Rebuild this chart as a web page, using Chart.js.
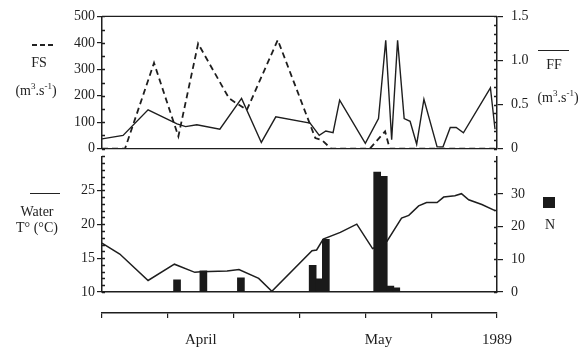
<!DOCTYPE html>
<html>
<head>
<meta charset="utf-8">
<script src="https://cdn.jsdelivr.net/npm/chart.js@4.4.1/dist/chart.umd.min.js"></script>
<style>
    body { margin: 0; background: #fff; }
    #wrap { position: relative; width: 582px; height: 352px; background: #fff; overflow: hidden; }
    canvas { position: absolute; left: 0; }
    .lbl { position: absolute; transform: translate(-50%, -50%); font-family: 'Liberation Serif', serif; font-size: 14px; color: #222; white-space: nowrap; }
    .lbl sup { font-size: 9px; }
    .mark { position: absolute; }
</style>
</head>
<body>
<div id="wrap">
    <canvas id="chart_top" width="582" height="165" style="top:0"></canvas>
    <canvas id="chart_bottom" width="582" height="212" style="top:140px"></canvas>

    <div class="mark" style="left:32px;top:44px;width:21px;height:2px;background:repeating-linear-gradient(90deg,#222 0 5px,transparent 5px 8px)"></div>
    <div class="lbl" style="left:39px;top:63px">FS</div>
    <div class="lbl" style="left:36px;top:90px">(m<sup>3</sup>.s<sup>-1</sup>)</div>

    <div class="mark" style="left:538px;top:50px;width:31px;border-top:1.5px solid #222"></div>
    <div class="lbl" style="left:554px;top:65px">FF</div>
    <div class="lbl" style="left:558px;top:97px">(m<sup>3</sup>.s<sup>-1</sup>)</div>

    <div class="mark" style="left:30px;top:193px;width:30px;border-top:1.5px solid #222"></div>
    <div class="lbl" style="left:37px;top:212px">Water</div>
    <div class="lbl" style="left:37px;top:228px">T° (°C)</div>

    <div class="mark" style="left:543px;top:197px;width:12px;height:11px;background:#1a1a1a"></div>
    <div class="lbl" style="left:550px;top:225px">N</div>
</div>

<script>
// Data (x = days from start of record, axis runs 0..60)
var fsDays   = [0, 3.5, 7.9, 11.6, 14.6, 19.3, 22.0, 26.7, 31.5, 32.4, 33.4, 34.8, 40.7, 43.0, 43.7, 60];
var fsValues = [0, 0, 324, 46, 397, 190, 146, 411, 98, 40, 32, 0, 0, 65, 0, 0];

var ffDays   = [0, 3.2, 7.0, 11.4, 12.7, 14.4, 17.9, 21.2, 24.2, 26.4, 31.6, 33.0, 34.0, 35.1, 36.1, 40.0, 42.0, 43.1, 44.0, 44.9, 45.9, 46.8, 47.8, 48.9, 50.9, 51.8, 52.9, 53.8, 54.9, 59.0, 59.7];
var ffValues = [0.11, 0.15, 0.44, 0.28, 0.25, 0.27, 0.22, 0.57, 0.07, 0.36, 0.29, 0.15, 0.20, 0.18, 0.55, 0.06, 0.34, 1.23, 0.10, 1.23, 0.34, 0.31, 0.05, 0.56, 0.02, 0.02, 0.24, 0.24, 0.18, 0.69, 0.22];

var tDays   = [0, 2.7, 7.0, 11.0, 14.1, 15.0, 19.0, 20.8, 23.8, 25.8, 31.9, 32.6, 33.6, 36.2, 38.7, 41.1, 43.3, 45.5, 46.6, 48.1, 49.3, 50.9, 51.9, 53.6, 54.6, 55.7, 57.7, 59.7];
var tValues = [17.2, 15.6, 11.7, 14.1, 12.9, 13.0, 13.1, 13.3, 12.0, 10.1, 16.1, 16.2, 17.8, 18.8, 20.0, 16.4, 17.5, 20.9, 21.3, 22.7, 23.2, 23.2, 24.0, 24.2, 24.5, 23.6, 22.9, 22.0];

var nDays   = [11.4, 15.4, 21.1, 32.0, 33.0, 34.0, 41.8, 42.8, 43.8, 44.7];
var nValues = [3.7, 6.5, 4.3, 8.2, 4.0, 16.1, 36.7, 35.4, 1.8, 1.3];

var timeTicks  = [0, 10, 20, 30, 40, 50, 60];
var monthDays  = [15, 42, 60];
var monthNames = ['April', 'May', '1989'];

var INK = '#1e1e1e';
var FONT = 'Liberation Serif';

function toPoints(xs, ys) {
    return xs.map(function(x, i) { return { x: x, y: ys[i] }; });
}

// small inward ticks + frame lines the library doesn't draw
function framePlugin(cfg) {
    return {
        id: 'frame',
        afterDraw: function(chart) {
            var ctx = chart.ctx, a = chart.chartArea;
            ctx.save();
            ctx.strokeStyle = INK;
            ctx.lineWidth = 1.3;
            ctx.beginPath();
            if (cfg.top) { ctx.moveTo(a.left, a.top); ctx.lineTo(a.right, a.top); }
            if (cfg.bottom) { ctx.moveTo(a.left, a.bottom); ctx.lineTo(a.right, a.bottom); }
            cfg.minor.forEach(function(m) {
                var s = chart.scales[m.id];
                for (var v = s.min; v <= s.max + 1e-9; v += m.step) {
                    var y = Math.round(s.getPixelForValue(v)) + 0.5;
                    var x = m.side === 'left' ? a.left : a.right;
                    ctx.moveTo(x, y);
                    ctx.lineTo(m.side === 'left' ? x + 3 : x - 3, y);
                }
            });
            ctx.stroke();
            ctx.restore();
        }
    };
}

function yAxis(side, min, max, step, extra) {
    var ax = {
        type: 'linear',
        position: side,
        min: min,
        max: max,
        afterFit: function(s) { s.width = side === 'left' ? 102 : 85; },
        ticks: {
            stepSize: step,
            color: INK,
            padding: side === 'left' ? 2 : 8,
            font: { family: FONT, size: 14 }
        },
        grid: { drawOnChartArea: false, tickLength: side === 'left' ? 5 : 6, color: INK, lineWidth: 1.2 },
        border: { display: true, color: INK, width: 1.5 }
    };
    return Object.assign(ax, extra || {});
}

function draw_chart_top() {
    // Get Chart Data
    var objData = {
        datasets: [
            {
                label: 'FS',
                data: toPoints(fsDays, fsValues),
                yAxisID: 'yL',
                borderColor: INK,
                borderWidth: 1.8,
                borderDash: [6, 4],
                pointRadius: 0,
                tension: 0,
                fill: false
            },
            {
                label: 'FF',
                data: toPoints(ffDays, ffValues),
                yAxisID: 'yR',
                borderColor: INK,
                borderWidth: 1.4,
                pointRadius: 0,
                tension: 0,
                fill: false
            }
        ]
    };

    // Config Options
    var objOptions = {
        responsive: false,
        animation: false,
        devicePixelRatio: 1,
        layout: { padding: { top: 14, bottom: 14, left: 0, right: 0 } },
        plugins: { legend: { display: false }, tooltip: { enabled: false } },
        scales: {
            x: { type: 'linear', min: 0, max: 60, display: false },
            yL: yAxis('left', 0, 500, 100),
            yR: yAxis('right', 0, 1.5, 0.5, {})
        }
    };
    objOptions.scales.yR.ticks.callback = function(v) { return v === 0 ? '0' : v.toFixed(1); };

    // Draw Chart
    var elChart = document.getElementById('chart_top');
    var objChart = new Chart(elChart, {
        type: 'line',
        data: objData,
        options: objOptions,
        plugins: [framePlugin({ top: true, bottom: true, minor: [
            { id: 'yL', step: 50, side: 'left' },
            { id: 'yR', step: 0.1, side: 'right' }
        ] })]
    });
}

function draw_chart_bottom() {
    // Get Chart Data
    var objData = {
        datasets: [
            {
                type: 'bar',
                label: 'N',
                data: toPoints(nDays, nValues),
                xAxisID: 'x',
                yAxisID: 'yN',
                backgroundColor: '#1a1a1a',
                borderWidth: 0,
                barThickness: 7,
                order: 0
            },
            {
                type: 'line',
                label: 'Water T',
                data: toPoints(tDays, tValues),
                xAxisID: 'x',
                yAxisID: 'yT',
                borderColor: INK,
                borderWidth: 1.5,
                pointRadius: 0,
                tension: 0,
                fill: false,
                order: 1
            }
        ]
    };

    var labelFor = {};
    monthDays.forEach(function(d, i) { labelFor[d] = monthNames[i]; });

    // Config Options
    var objOptions = {
        responsive: false,
        animation: false,
        devicePixelRatio: 1,
        layout: { padding: { top: 11, bottom: 0, left: 0, right: 0 } },
        plugins: { legend: { display: false }, tooltip: { enabled: false } },
        scales: {
            gap: {
                type: 'linear', position: 'bottom', weight: 0, min: 0, max: 60,
                afterFit: function(s) { s.height = 21; },
                ticks: { display: false },
                grid: { display: false },
                border: { display: true, color: INK, width: 1.5 }
            },
            x: {
                type: 'linear', position: 'bottom', weight: 1, min: 0, max: 60, offset: false,
                afterFit: function(s) { s.height = 39; },
                afterBuildTicks: function(s) {
                    var vals = timeTicks.concat(monthDays.filter(function(d) { return timeTicks.indexOf(d) < 0; }));
                    vals.sort(function(a, b) { return a - b; });
                    s.ticks = vals.map(function(v) { return { value: v }; });
                },
                ticks: {
                    autoSkip: false, maxRotation: 0, padding: 13, color: INK,
                    font: { family: FONT, size: 15 },
                    callback: function(v) { return labelFor[v] || ''; }
                },
                grid: {
                    drawOnChartArea: false, offset: false, tickLength: 5, lineWidth: 1.2,
                    color: function(c) { return (c.tick && c.tick.value % 10 === 0) ? INK : 'rgba(0,0,0,0)'; }
                },
                border: { display: true, color: INK, width: 1.5 }
            },
            yT: yAxis('left', 10, 30, 5, {
                afterBuildTicks: function(s) { s.ticks = s.ticks.filter(function(t) { return t.value < 30; }); }
            }),
            yN: yAxis('right', 0, 41.5, 10, {
                afterBuildTicks: function(s) { s.ticks = s.ticks.filter(function(t) { return t.value <= 30 && t.value % 10 === 0; }); }
            })
        }
    };

    // Draw Chart
    var elChart = document.getElementById('chart_bottom');
    var objChart = new Chart(elChart, {
        type: 'line',
        data: objData,
        options: objOptions,
        plugins: [framePlugin({ top: false, bottom: false, minor: [
            { id: 'yT', step: 1, side: 'left' },
            { id: 'yN', step: 5, side: 'right' }
        ] })]
    });
}

draw_chart_top();
draw_chart_bottom();
</script>
</body>
</html>
